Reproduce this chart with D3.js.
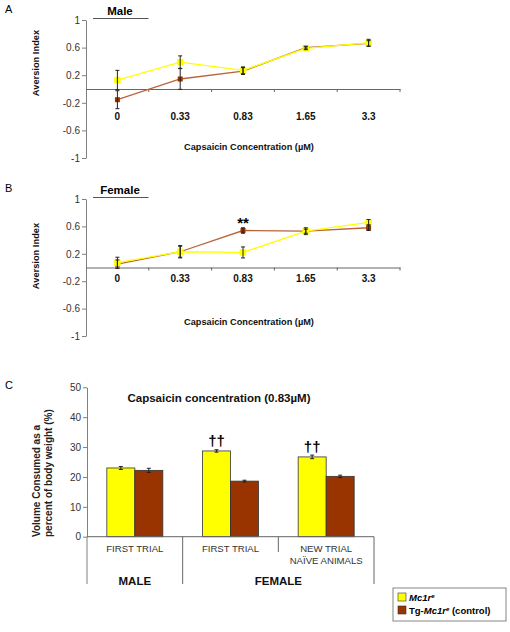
<!DOCTYPE html>
<html><head><meta charset="utf-8">
<script src="https://cdn.jsdelivr.net/npm/d3@7"></script>
<style>
html,body{margin:0;padding:0;background:#fff;}
svg{display:block;}
text{font-family:'Liberation Sans',Arial,sans-serif;}
</style></head>
<body>
<script>
// ---------- DATA ----------
const concentrations = ["0", "0.33", "0.83", "1.65", "3.3"];
const aversionTicks = [-1, -0.6, -0.2, 0.2, 0.6, 1];

const maleMc1r    = [0.13, 0.39, 0.27, 0.59, 0.67];
const maleMc1rErr = [0.14, 0.09, 0.05, 0.02, 0.05];
const maleTg      = [-0.155, 0.145, 0.26, 0.60, 0.66];
const maleTgErr   = [0.13, 0.15, 0.05, 0.02, 0.04];

const femaleMc1r    = [0.07, 0.23, 0.22, 0.53, 0.66];
const femaleMc1rErr = [0.08, 0.09, 0.08, 0.05, 0.04];
const femaleTg      = [0.05, 0.23, 0.54, 0.53, 0.58];
const femaleTgErr   = [0.06, 0.08, 0.04, 0.03, 0.04];

const trialGroups = ["FIRST TRIAL", "FIRST TRIAL", "NEW TRIAL|NAÏVE ANIMALS"];
const sexGroups = ["MALE", "FEMALE"];
const volumeTicks = [0, 10, 20, 30, 40, 50];
const volMc1r    = [23.0, 28.7, 26.7];
const volMc1rErr = [0.5, 0.4, 0.6];
const volTg      = [22.2, 18.6, 20.2];
const volTgErr   = [0.7, 0.3, 0.4];
const volSig     = ["", "††", "††"];

const YELLOW = "#ffff00", BROWN = "#993300", BROWN_LINE = "#b8643a";

// ---------- SVG ----------
const svg = d3.select("body").append("svg").attr("width", 510).attr("height", 632);

function linePanel(o) {
  const g = svg.append("g");
  const x = d3.scaleBand().domain(concentrations).range([86, 400]);
  const y = d3.scaleLinear().domain([-1, 1]).range([o.bottom, o.top]);
  const cx = d => x(d) + x.bandwidth() / 2;

  g.append("text").attr("x", 5).attr("y", o.top - 7).attr("font-size", 11).text(o.letter);
  g.append("text").attr("x", 120).attr("y", o.top - 5.5).attr("text-anchor", "middle")
    .attr("font-size", 11.5).attr("font-weight", "bold").text(o.sex);
  g.append("line").attr("x1", 93).attr("x2", 148.5).attr("y1", o.top - 1.5).attr("y2", o.top - 1.5)
    .attr("stroke", "#555").attr("stroke-width", 1);

  const ya = g.append("g").attr("transform", "translate(86,0)")
    .call(d3.axisLeft(y).tickValues(aversionTicks).tickSize(4).tickSizeOuter(0).tickFormat(d => String(d)));
  ya.select(".domain").attr("stroke", "#808080");
  ya.selectAll(".tick line").attr("stroke", "#808080");
  ya.selectAll(".tick text").attr("font-size", 10).attr("fill", "#333").attr("font-family", "'Liberation Sans',Arial,sans-serif").attr("x", -6);

  const xa = g.append("g").attr("transform", `translate(0,${y(0)})`)
    .call(d3.axisBottom(x).tickSize(0).tickSizeOuter(0).tickPadding(o.labelPad));
  xa.select(".domain").attr("stroke", "#666").attr("stroke-width", 1.2);
  xa.selectAll(".tick text").attr("font-size", 10).attr("font-weight", "bold").attr("fill", "#111")
    .attr("font-family", "'Liberation Sans',Arial,sans-serif");
  g.selectAll(".bnd").data(concentrations).join("line")
    .attr("x1", d => x(d) + x.bandwidth()).attr("x2", d => x(d) + x.bandwidth())
    .attr("y1", y(0)).attr("y2", y(0) + 3).attr("stroke", "#666");

  g.append("text").attr("x", 249).attr("y", o.titleY).attr("text-anchor", "middle")
    .attr("font-size", 9.2).attr("font-weight", "bold").attr("fill", "#111")
    .text("Capsaicin Concentration (µM)");
  g.append("text").attr("transform", `translate(39,${o.yTitleC}) rotate(-90)`).attr("text-anchor", "middle")
    .attr("font-size", 9.3).attr("font-weight", "bold").attr("fill", "#111").text("Aversion Index");

  const series = [
    {vals: o.tg, err: o.tgErr, line: BROWN_LINE, fill: BROWN, size: 5},
    {vals: o.mc, err: o.mcErr, line: YELLOW, fill: YELLOW, size: 6.5}
  ];
  const ln = d3.line().x((d, i) => cx(concentrations[i])).y(d => y(d));
  series.forEach(s => {
    g.append("path").datum(s.vals).attr("d", ln).attr("fill", "none")
      .attr("stroke", s.line).attr("stroke-width", 1.3);
    g.selectAll(null).data(s.vals).join("rect")
      .attr("x", (d, i) => cx(concentrations[i]) - s.size / 2).attr("y", d => y(d) - s.size / 2)
      .attr("width", s.size).attr("height", s.size).attr("fill", s.fill);
  });
  series.forEach(s => {
    s.vals.forEach((v, i) => {
      const xx = cx(concentrations[i]);
      const y1 = y(v + s.err[i]), y2 = y(v - s.err[i]);
      g.append("line").attr("x1", xx).attr("x2", xx).attr("y1", y1).attr("y2", y2).attr("stroke", "#222");
      [y1, y2].forEach(yy => g.append("line").attr("x1", xx - 2).attr("x2", xx + 2)
        .attr("y1", yy).attr("y2", yy).attr("stroke", "#222"));
    });
  });
  if (o.star) {
    const i = concentrations.indexOf(o.star.at);
    g.append("text").attr("x", cx(o.star.at)).attr("y", y(o.tg[i] + o.tgErr[i]) + 0.5).attr("text-anchor", "middle")
      .attr("font-size", 15).attr("font-weight", "bold").text("**");
  }
}

linePanel({letter: "A", sex: "Male", top: 20, bottom: 158, labelPad: 23.5, titleY: 150,
  yTitleC: 63, mc: maleMc1r, mcErr: maleMc1rErr, tg: maleTg, tgErr: maleTgErr});
linePanel({letter: "B", sex: "Female", top: 199, bottom: 336, labelPad: 7, titleY: 324.5,
  yTitleC: 256, mc: femaleMc1r, mcErr: femaleMc1rErr, tg: femaleTg, tgErr: femaleTgErr,
  star: {at: "0.83"}});

// ---------- PANEL C ----------
(function () {
  const g = svg.append("g");
  const idx = trialGroups.map((d, i) => i);
  const x = d3.scaleBand().domain(idx).range([87, 374]);
  const inner = d3.scaleBand().domain(["mc", "tg"]).range([-28, 28]);
  const y = d3.scaleLinear().domain([0, 50]).range([536.7, 387.3]);

  g.append("text").attr("x", 5).attr("y", 389).attr("font-size", 11).text("C");
  g.append("text").attr("x", 219).attr("y", 401.5).attr("text-anchor", "middle")
    .attr("font-size", 11.5).attr("font-weight", "bold").attr("fill", "#111")
    .text("Capsaicin concentration (0.83µM)");
  const yt = g.append("text").attr("transform", "translate(0,537) rotate(-90)")
    .attr("font-size", 10).attr("font-weight", "bold").attr("fill", "#222");
  yt.append("tspan").attr("x", 0).attr("y", 40).text("Volume Consumed as a");
  yt.append("tspan").attr("x", 0).attr("y", 52).text("percent of body weight (%)");

  const ya = g.append("g").attr("transform", "translate(87,0)")
    .call(d3.axisLeft(y).tickValues(volumeTicks).tickSize(4).tickSizeOuter(0));
  ya.select(".domain").attr("stroke", "#808080");
  ya.selectAll(".tick line").attr("stroke", "#808080");
  ya.selectAll(".tick text").attr("font-size", 10).attr("fill", "#333").attr("x", -6)
    .attr("font-family", "'Liberation Sans',Arial,sans-serif");

  idx.forEach(i => {
    const c = x(i) + x.bandwidth() / 2;
    [["mc", volMc1r, volMc1rErr, YELLOW], ["tg", volTg, volTgErr, BROWN]].forEach(([k, v, e, col]) => {
      g.append("rect").attr("x", c + inner(k)).attr("y", y(v[i])).attr("width", inner.bandwidth())
        .attr("height", y(0) - y(v[i])).attr("fill", col).attr("stroke", "#333").attr("stroke-width", 0.8);
      const bx = c + inner(k) + inner.bandwidth() / 2;
      const y1 = y(v[i] + e[i]), y2 = y(v[i] - e[i]);
      g.append("line").attr("x1", bx).attr("x2", bx).attr("y1", y1).attr("y2", y2).attr("stroke", "#222");
      [y1, y2].forEach(yy => g.append("line").attr("x1", bx - 2).attr("x2", bx + 2)
        .attr("y1", yy).attr("y2", yy).attr("stroke", "#222"));
    });
    if (volSig[i]) {
      g.append("text").attr("x", c + inner("mc") + inner.bandwidth() / 2).attr("y", y(volMc1r[i]) - 5)
        .attr("text-anchor", "middle").attr("font-size", 15).attr("font-weight", "bold")
        .text(volSig[i]);
    }
    const parts = trialGroups[i].split("|");
    parts.forEach((p, j) => g.append("text").attr("x", c).attr("y", 551.5 + j * 12)
      .attr("text-anchor", "middle").attr("font-size", 9.6).attr("fill", "#333").text(p));
  });

  g.append("line").attr("x1", 87).attr("x2", 374).attr("y1", y(0)).attr("y2", y(0)).attr("stroke", "#666");
  g.append("line").attr("x1", 87).attr("x2", 87).attr("y1", y(0)).attr("y2", 584).attr("stroke", "#808080");
  const b1 = x(1), b2 = x(2), bEnd = x(2) + x.bandwidth();
  [[b1, 584], [b2, 552], [bEnd, 584]].forEach(([xx, yy]) =>
    g.append("line").attr("x1", xx).attr("x2", xx).attr("y1", y(0)).attr("y2", yy).attr("stroke", "#666"));
  g.append("text").attr("x", (87 + b1) / 2).attr("y", 585).attr("text-anchor", "middle")
    .attr("font-size", 11.5).attr("font-weight", "bold").attr("fill", "#111").text(sexGroups[0]);
  g.append("text").attr("x", (b1 + bEnd) / 2).attr("y", 585).attr("text-anchor", "middle")
    .attr("font-size", 11.5).attr("font-weight", "bold").attr("fill", "#111").text(sexGroups[1]);

  const lg = svg.append("g");
  lg.append("rect").attr("x", 393).attr("y", 588).attr("width", 113).attr("height", 33)
    .attr("fill", "#fff").attr("stroke", "#666").attr("stroke-width", 0.8);
  lg.append("rect").attr("x", 398).attr("y", 593).attr("width", 8).attr("height", 8)
    .attr("fill", YELLOW).attr("stroke", "#333").attr("stroke-width", 0.6);
  lg.append("rect").attr("x", 398).attr("y", 606).attr("width", 8).attr("height", 8)
    .attr("fill", BROWN).attr("stroke", "#333").attr("stroke-width", 0.6);
  const t1 = lg.append("text").attr("x", 409).attr("y", 601).attr("font-size", 9.5).attr("font-weight", "bold");
  t1.append("tspan").attr("font-style", "italic").text("Mc1r");
  t1.append("tspan").attr("font-size", 6).attr("dy", -3.5).attr("font-style", "italic").text("e");
  const t2 = lg.append("text").attr("x", 409).attr("y", 614).attr("font-size", 9.5).attr("font-weight", "bold");
  t2.append("tspan").text("Tg-");
  t2.append("tspan").attr("font-style", "italic").text("Mc1r");
  t2.append("tspan").attr("font-size", 6).attr("dy", -3.5).attr("font-style", "italic").text("e");
  t2.append("tspan").attr("dy", 3.5).text(" (control)");
})();
</script>
</body></html>
